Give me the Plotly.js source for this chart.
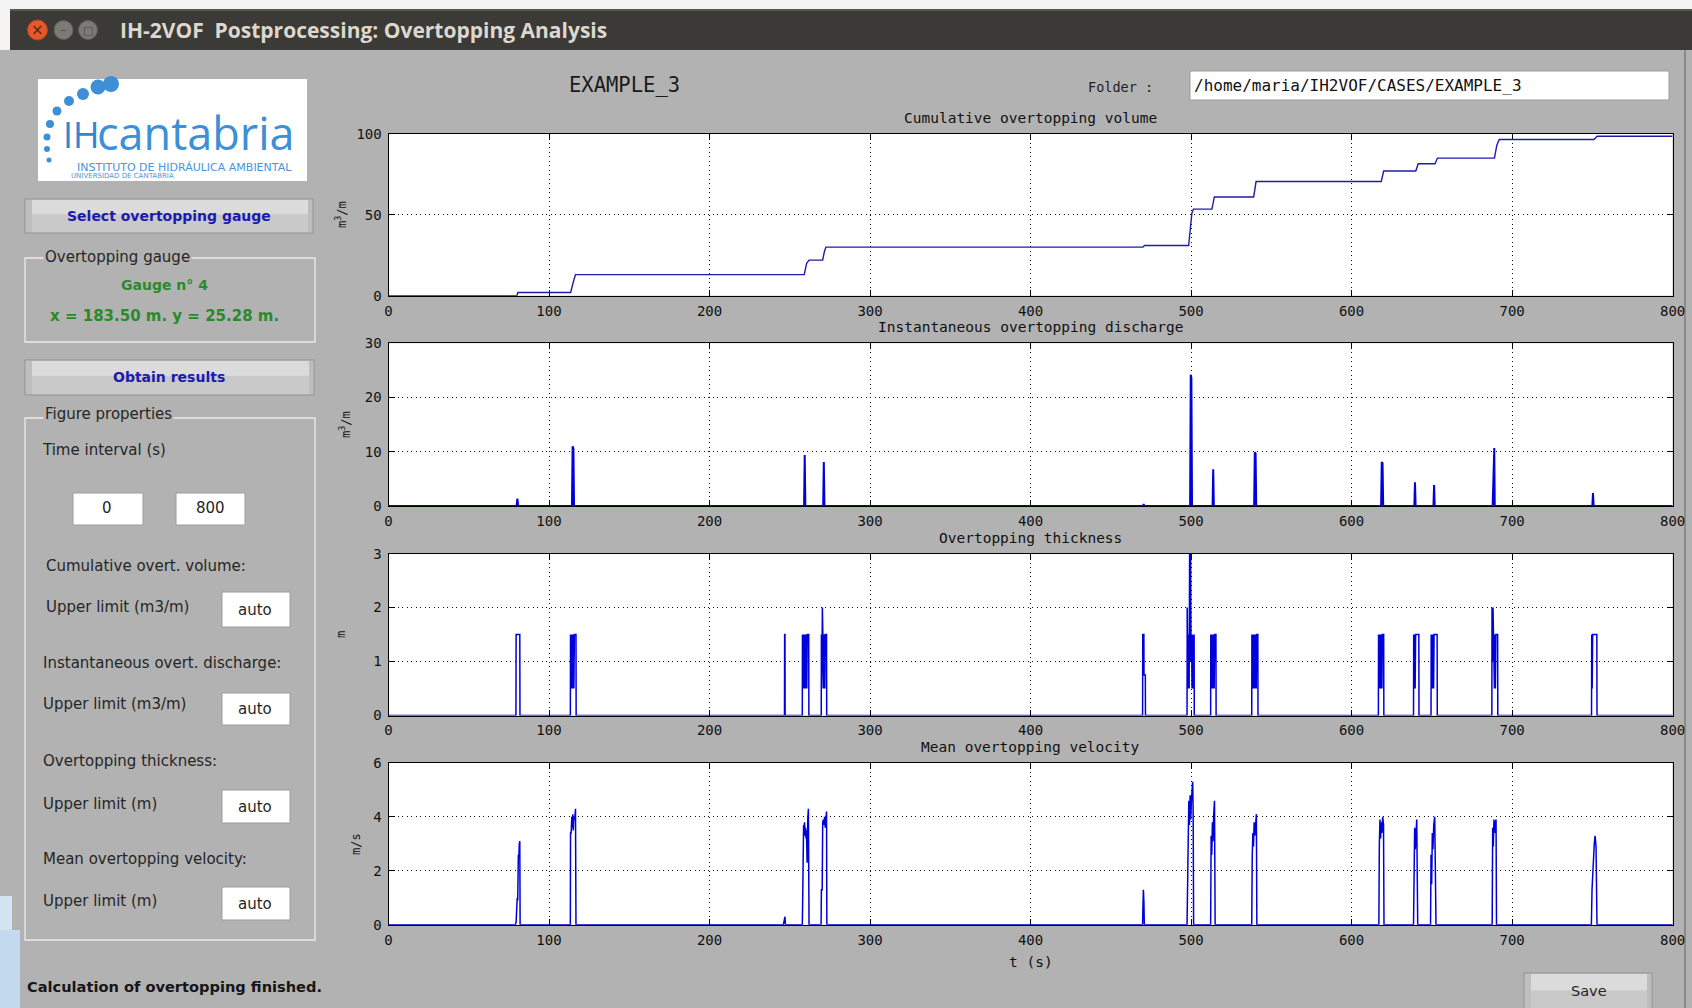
<!DOCTYPE html>
<html>
<head>
<meta charset="utf-8">
<script src="https://cdn.plot.ly/plotly-3.0.1.min.js"></script>
<style>
  html, body { margin: 0; padding: 0; background: #b2b2b2; }
  #fig { width: 1692px; height: 1008px; }
</style>
</head>
<body>
<div id="fig"></div>
<script>
// ---- Gauge 4 time series (t in seconds) ----

// Cumulative overtopping volume (m3/m)
const volTime  = [0, 80, 80.6, 113.5, 115, 116.5, 259, 260.5, 262, 270.5, 271.5, 272.5, 470, 471,
                  498.5, 499.5, 500.5, 501.5, 513, 514.5, 539, 540.5, 618.5, 620, 640, 641.5,
                  652, 653.5, 689, 690.5, 692, 751, 753, 800];
const volValue = [0, 0, 2, 2, 8, 13, 13, 20, 22, 22, 27, 30, 30, 31,
                  31, 42, 51, 53.5, 53.5, 61, 61, 70.5, 70.5, 77, 77, 81.5,
                  81.5, 85, 85, 93, 96.5, 96.5, 98.5, 98.5];

// Instantaneous overtopping discharge (m3/m)
const qTime  = [0,
  79.8, 80.3, 80.8,
  114.3, 114.7, 115.2, 115.6,
  258.9, 259.3, 259.7,
  270.8, 271.2, 271.6,
  470.2, 470.5, 470.8,
  499.4, 499.8, 500.2, 500.6,
  513.4, 513.8, 514.2,
  539.3, 539.7, 540.2, 540.6,
  618.4, 618.8, 619.3, 619.7,
  639.1, 639.5, 639.9,
  651.0, 651.4, 651.8,
  687.9, 688.2, 688.6, 688.9, 689.2,
  750.0, 750.4, 750.8,
  800];
const qValue = [0,
  0, 1.4, 0,
  0, 11.0, 10.6, 0,
  0, 9.4, 0,
  0, 8.1, 0,
  0, 0.4, 0,
  0, 24.2, 23.6, 0,
  0, 6.8, 0,
  0, 9.9, 9.7, 0,
  0, 8.1, 7.9, 0,
  0, 4.4, 0,
  0, 3.9, 0,
  0, 5.5, 5.3, 10.7, 0,
  0, 2.4, 0,
  0];

// Overtopping thickness (m)
const thkTime = [0,
  79.4, 79.5, 81.8, 81.9,
  113.3, 113.4, 113.7, 114.0, 114.3, 114.6, 114.9, 115.2, 115.5, 115.8, 116.1, 116.8, 116.9,
  246.7, 246.8, 247.0, 247.1,
  257.8, 257.9, 258.2, 258.5, 258.8, 259.1, 259.4, 259.7, 260.0, 260.3, 260.6, 260.9, 261.8, 261.9,
  269.6, 269.7, 270.0, 270.3, 270.6, 270.9, 271.2, 271.5, 271.8, 272.1, 272.9, 273.0,
  469.8, 469.9, 470.6, 470.7, 471.5, 471.6,
  497.5, 497.6, 498.0, 498.4, 498.8, 499.1, 499.4, 499.7, 500.0, 500.3, 500.6, 500.9, 501.2, 501.5, 501.9, 502.0,
  512.2, 512.3, 512.6, 512.9, 513.2, 513.5, 513.8, 514.1, 514.4, 514.7, 515.5, 515.6,
  537.8, 537.9, 538.2, 538.5, 538.8, 539.1, 539.4, 539.7, 540.0, 540.3, 540.6, 540.9, 541.6, 541.7,
  616.7, 616.8, 617.1, 617.4, 617.7, 618.0, 618.3, 618.6, 618.9, 619.2, 620.0, 620.1,
  638.6, 638.7, 639.0, 639.3, 639.6, 639.9, 641.9, 642.0,
  649.5, 649.6, 649.9, 650.2, 650.5, 650.8, 651.1, 651.4, 653.3, 653.4,
  687.4, 687.5, 687.8, 688.1, 688.4, 688.7, 689.0, 689.3, 689.6, 689.9, 691.0, 691.1,
  749.5, 749.6, 749.9, 750.2, 752.8, 752.9,
  800];
const thkValue = [0,
  0, 1.5, 1.5, 0,
  0, 1.5, 0.5, 1.5, 0.5, 1.5, 0.5, 1.5, 0.5, 1.5, 1.5, 1.5, 0,
  0, 1.5, 1.5, 0,
  0, 1.5, 0.5, 1.5, 0.5, 1.5, 0.5, 1.5, 0.5, 1.5, 0.5, 1.5, 1.5, 0,
  0, 1.5, 0.5, 2.0, 1.0, 1.5, 0.5, 1.5, 0.5, 1.5, 1.5, 0,
  0, 1.5, 1.5, 0.75, 0.75, 0,
  0, 2.0, 0.5, 1.5, 0.5, 3.0, 1.0, 3.0, 1.0, 1.5, 0.5, 1.5, 0.5, 1.5, 1.5, 0,
  0, 1.5, 0.5, 1.5, 0.5, 1.5, 0.5, 1.5, 0.5, 1.5, 1.5, 0,
  0, 1.5, 0.5, 1.5, 0.5, 1.5, 0.5, 1.5, 0.5, 1.5, 0.5, 1.5, 1.5, 0,
  0, 1.5, 0.5, 1.5, 0.5, 1.5, 0.5, 1.5, 0.5, 1.5, 1.5, 0,
  0, 1.5, 0.5, 1.5, 0.5, 1.5, 1.5, 0,
  0, 1.5, 0.5, 1.5, 0.5, 1.5, 0.5, 1.5, 1.5, 0,
  0, 2.0, 1.0, 2.0, 1.0, 1.5, 0.5, 1.5, 0.5, 1.5, 1.5, 0,
  0, 1.5, 0.5, 1.5, 1.5, 0,
  0];

// Mean overtopping velocity (m/s)
const velTime = [0,
  79.0, 79.5, 80.2, 80.5, 80.9, 81.2, 81.5, 81.8, 82.0,
  113.3, 113.4, 113.8, 114.2, 114.5, 114.8, 115.1, 115.5, 116.0, 116.5, 116.8,
  246.0, 246.3, 246.6, 247.0, 247.3,
  257.8, 258.0, 258.6, 258.9, 259.2, 259.5, 259.8, 260.1, 260.4, 260.8, 261.2, 261.6, 262.0,
  269.5, 269.7, 270.2, 270.5, 270.9, 271.3, 271.7, 272.1, 272.5, 272.9, 273.1,
  469.8, 470.0, 470.3, 470.6, 470.9,
  497.5, 497.8, 498.2, 498.6, 499.0, 499.4, 499.8, 500.2, 500.6, 501.0, 501.3, 501.6,
  512.2, 512.5, 512.9, 513.3, 513.7, 514.1, 514.6, 515.0,
  537.8, 538.1, 538.5, 538.9, 539.3, 539.7, 540.2, 540.7, 541.0,
  617.0, 617.3, 617.7, 618.1, 618.5, 618.9, 619.4, 619.9, 620.2,
  638.6, 638.9, 639.3, 639.7, 640.1, 640.6, 641.2,
  649.2, 649.5, 649.9, 650.3, 650.7, 651.2, 651.8, 652.6,
  687.6, 687.9, 688.3, 688.7, 689.1, 689.6, 690.0, 690.3,
  749.4, 749.8, 750.3, 750.7, 751.2, 751.7, 752.3, 752.9,
  800];
const velValue = [0,
  0, 0.1, 1.0, 0.9, 2.6, 2.5, 3.0, 3.1, 0,
  0, 3.4, 3.4, 4.0, 3.6, 4.1, 3.5, 4.0, 3.9, 4.3, 0,
  0, 0.1, 0.3, 0.3, 0,
  0, 0.7, 3.7, 3.5, 3.8, 3.3, 3.6, 3.2, 3.5, 2.3, 3.9, 4.3, 0,
  0, 1.3, 1.3, 3.8, 3.9, 3.7, 4.0, 3.6, 4.1, 4.2, 0,
  0, 0.6, 1.3, 0.9, 0,
  0, 2.8, 3.0, 4.6, 3.7, 4.8, 3.9, 4.6, 5.0, 5.3, 4.2, 0,
  0, 3.3, 2.6, 3.8, 3.1, 4.1, 4.6, 0,
  0, 2.5, 3.4, 2.9, 3.8, 3.3, 3.9, 4.1, 0,
  0, 3.0, 3.9, 3.2, 3.8, 3.4, 4.0, 3.7, 0,
  0, 2.2, 3.6, 2.8, 3.7, 3.9, 0,
  0, 2.6, 1.5, 3.4, 2.8, 3.7, 4.0, 0,
  0, 3.6, 2.9, 3.9, 3.4, 3.8, 3.9, 0,
  0, 1.3, 2.1, 2.6, 3.0, 3.3, 2.9, 0,
  0];

// Panel titles, axis units and tick steps
const panelTitles = ['Cumulative overtopping volume', 'Instantaneous overtopping discharge',
                     'Overtopping thickness', 'Mean overtopping velocity'];
const panelUnits  = ['m<sup>3</sup>/m', 'm<sup>3</sup>/m', 'm', 'm/s'];
const yLimits     = [100, 30, 3, 6];
const yTickSteps  = [50, 10, 1, 2];
const tLimits     = [0, 800];

// ---- page geometry (pixels) ----
const W = 1692, H = 1008;
const fx = x => x / W;
const fy = y => 1 - y / H;

const PLOT_L = 388.5, PLOT_R = 1672.6;
const panelTop    = [133.8, 343.2, 553.6, 762.9];
const panelBottom = [295.7, 506.1, 715.5, 924.8];
const unitPos = [[341, 215], [345, 425], [341, 635], [356, 844]];

const GUI_BG = '#b2b2b2';
const MONO = 'DejaVu Sans Mono, Liberation Mono, monospace';
const SANS = 'DejaVu Sans, Liberation Sans, sans-serif';

function rect(x0, y0, x1, y1, fill, line, lw, layer) {
  return { type: 'rect', xref: 'paper', yref: 'paper',
    x0: fx(x0), x1: fx(x1), y0: fy(y1), y1: fy(y0),
    fillcolor: fill, line: { color: line || 'rgba(0,0,0,0)', width: lw || 0 },
    layer: layer || 'below' };
}
function circle(cx, cy, r, fill, line) {
  return { type: 'circle', xref: 'paper', yref: 'paper',
    x0: fx(cx - r), x1: fx(cx + r), y0: fy(cy + r), y1: fy(cy - r),
    fillcolor: fill, line: { color: line || 'rgba(0,0,0,0)', width: line ? 1 : 0 }, layer: 'above' };
}
function txt(text, x, y, o) {
  const base = { xref: 'paper', yref: 'paper', x: fx(x), y: fy(y), text: text,
    showarrow: false, xanchor: 'center', yanchor: 'middle', borderpad: 0,
    font: { family: SANS, size: 15, color: '#262626' } };
  return Object.assign(base, o || {});
}
function button(x0, y0, x1, y1) {
  return [
    rect(x0, y0, x1, y1, '#c9c9c9', '#8f8f8f', 1),
    rect(x0 + 1, y0 + 1, x1 - 1, y0 + (y1 - y0) * 0.45, '#dbdbdb'),
    rect(x0 + 1, y0 + 1, x0 + 7, y1 - 1, '#bfbfbf'),
    rect(x1 - 5, y0 + 1, x1 - 1, y1 - 1, '#bdbdbd')
  ];
}
function inputBox(x0, y0, x1, y1) {
  return rect(x0, y0, x1, y1, '#ffffff', '#9c9c9c', 1);
}

// ---- shapes: window frame, controls, logo ----
const shapes = [];
shapes.push(rect(0, 0, W, 9, '#f4f4f4'));
shapes.push(rect(0, 0, 10, 50, '#f4f4f4'));
shapes.push(rect(10, 9, W, 50, '#3b3a36'));
shapes.push(rect(10, 9, W, 11, '#57564f'));
shapes.push(rect(0, 896, 12, H, '#d3e4f2'));
shapes.push(rect(0, 930, 20, H, '#c4dbef'));
shapes.push(rect(1684, 50, 1686, H, '#8a8a8a'));

// logo
shapes.push(rect(38, 79, 307, 181, '#ffffff'));
[[111, 84, 8], [98, 87, 7.5], [83, 94, 6], [69, 101, 5], [57, 111, 4.5],
 [50, 124, 4], [47, 137, 3.5], [47, 149, 3], [49, 160, 2.5]].forEach(d =>
  shapes.push(circle(d[0], d[1], d[2], '#3f8fd6')));

// buttons
shapes.push(...button(25, 199, 313, 233));
shapes.push(...button(25, 360, 314, 395));
shapes.push(...button(1524, 973, 1652, 1012));

// group boxes
shapes.push(rect(25, 258, 315, 342, 'rgba(0,0,0,0)', '#ebebeb', 1.3));
shapes.push(rect(25, 418, 315, 940, 'rgba(0,0,0,0)', '#ebebeb', 1.3));

// edit fields
shapes.push(inputBox(73, 493, 143, 525));
shapes.push(inputBox(176, 493, 245, 525));
shapes.push(inputBox(222, 592, 290, 627));
shapes.push(inputBox(222, 693, 290, 725));
shapes.push(inputBox(222, 790, 290, 823));
shapes.push(inputBox(222, 887, 290, 920));
shapes.push(inputBox(1190, 71, 1669, 100));

// window control buttons
shapes.push(circle(37.5, 30, 10, '#e4582b', '#b8441f'));
shapes.push(circle(63.5, 30, 9.5, '#7b7a75', '#5c5b57'));
shapes.push(circle(88, 30, 9.5, '#7b7a75', '#5c5b57'));

// ---- annotations ----
const ann = [];
ann.push(txt('×', 37.5, 29.5, { font: { family: SANS, size: 15, color: '#5a2410' } }));
ann.push(txt('–', 63.5, 29.5, { font: { family: SANS, size: 13, color: '#4b4a46' } }));
ann.push(txt('□', 88, 30, { font: { family: SANS, size: 11, color: '#4b4a46' } }));
ann.push(txt('IH-2VOF\u00a0 Postprocessing: Overtopping Analysis', 119, 30,
  { xanchor: 'left', font: { family: 'Open Sans, Noto Sans, sans-serif', size: 21, color: '#dcd8cf', weight: 700 } }));

// logo text
ann.push(txt('IH', 81, 135, { font: { family: 'Open Sans, sans-serif', size: 36, color: '#3486d0' } }));
ann.push(txt('cantabria', 96, 133, { xanchor: 'left', font: { family: 'Open Sans, sans-serif', size: 45, color: '#3d8fd6' } }));
ann.push(txt('INSTITUTO DE HIDRÁULICA AMBIENTAL', 184, 167.5,
  { font: { family: SANS, size: 11, color: '#4a95d8' } }));
ann.push(txt('UNIVERSIDAD DE CANTABRIA', 70, 176,
  { xanchor: 'left', font: { family: SANS, size: 7, color: '#4a95d8' } }));

// left control panel
const BLUE_TXT = '#1b1bb0', GREEN_TXT = '#2a8a2a';
ann.push(txt('<b>Select overtopping gauge</b>', 169, 216, { font: { family: SANS, size: 14, color: BLUE_TXT } }));
ann.push(txt('Overtopping gauge', 43, 257, { xanchor: 'left', bgcolor: GUI_BG, borderpad: 1 }));
ann.push(txt('<b>Gauge n° 4</b>', 164, 285, { font: { family: SANS, size: 14, color: GREEN_TXT } }));
ann.push(txt('<b>x = 183.50 m. y = 25.28 m.</b>', 164, 316, { font: { family: SANS, size: 15, color: GREEN_TXT } }));
ann.push(txt('<b>Obtain results</b>', 169, 377, { font: { family: SANS, size: 14, color: BLUE_TXT } }));
ann.push(txt('Figure properties', 43, 414, { xanchor: 'left', bgcolor: GUI_BG, borderpad: 1 }));
ann.push(txt('Time interval (s)', 41, 450, { xanchor: 'left' }));
ann.push(txt(String(tLimits[0]), 107, 508));
ann.push(txt(String(tLimits[1]), 210, 508));
ann.push(txt('Cumulative overt. volume:', 45, 566, { xanchor: 'left' }));
ann.push(txt('Upper limit (m3/m)', 45, 607, { xanchor: 'left' }));
ann.push(txt('auto', 255, 610));
ann.push(txt('Instantaneous overt. discharge:', 42, 663, { xanchor: 'left' }));
ann.push(txt('Upper limit (m3/m)', 42, 704, { xanchor: 'left' }));
ann.push(txt('auto', 255, 709));
ann.push(txt('Overtopping thickness:', 42, 761, { xanchor: 'left' }));
ann.push(txt('Upper limit (m)', 42, 804, { xanchor: 'left' }));
ann.push(txt('auto', 255, 807));
ann.push(txt('Mean overtopping velocity:', 42, 859, { xanchor: 'left' }));
ann.push(txt('Upper limit (m)', 42, 901, { xanchor: 'left' }));
ann.push(txt('auto', 255, 904));
ann.push(txt('<b>Calculation of overtopping finished.</b>', 26, 986,
  { xanchor: 'left', font: { family: SANS, size: 14.6, color: '#161616' } }));
ann.push(txt('Save', 1589, 991, { font: { family: SANS, size: 14.5, color: '#262626' } }));

// header of the plot area
ann.push(txt('EXAMPLE_3', 624, 85, { font: { family: MONO, size: 20.5, color: '#1a1a1a' } }));
ann.push(txt('Folder :', 1154, 87, { xanchor: 'right', font: { family: MONO, size: 13.5, color: '#222' } }));
ann.push(txt('/home/maria/IH2VOF/CASES/EXAMPLE_3', 1193, 85,
  { xanchor: 'left', font: { family: MONO, size: 16, color: '#111' } }));

// panel titles and units
const midX = (PLOT_L + PLOT_R) / 2;
for (let i = 0; i < 4; i++) {
  ann.push(txt(panelTitles[i], midX, panelTop[i] - 16, { font: { family: MONO, size: 14.5, color: '#111' } }));
  ann.push(txt(panelUnits[i], unitPos[i][0], unitPos[i][1],
    { textangle: -90, font: { family: MONO, size: 12, color: '#111' } }));
}
ann.push(txt('t (s)', midX, 962, { font: { family: MONO, size: 14.5, color: '#111' } }));

// ---- axes ----
const axisStyle = {
  showline: true, linecolor: '#000', linewidth: 1, mirror: 'ticks',
  ticks: 'inside', ticklen: 6, tickwidth: 1, tickcolor: '#000',
  showgrid: true, gridcolor: '#111', gridwidth: 1, griddash: '1px,3.5px',
  zeroline: false, layer: 'below traces', automargin: false, fixedrange: true,
  tickfont: { family: MONO, size: 14, color: '#111' }
};

const layout = {
  width: W, height: H,
  margin: { l: 0, r: 0, t: 0, b: 0 },
  paper_bgcolor: GUI_BG, plot_bgcolor: '#ffffff',
  showlegend: false, hovermode: false,
  shapes: shapes, annotations: ann
};

const series = [[volTime, volValue, '#1c1ca8', 1.4],
                [qTime, qValue, '#0000dc', 2.0],
                [thkTime, thkValue, '#0000dc', 1.5],
                [velTime, velValue, '#0000dc', 1.5]];
const traces = [];
for (let i = 0; i < 4; i++) {
  const s = i === 0 ? '' : String(i + 1);
  layout['xaxis' + s] = Object.assign({}, axisStyle, {
    domain: [fx(PLOT_L), fx(PLOT_R)], range: tLimits, tick0: 0, dtick: 100,
    anchor: 'y' + s, ticklabelstandoff: 2 });
  layout['yaxis' + s] = Object.assign({}, axisStyle, {
    domain: [fy(panelBottom[i]), fy(panelTop[i])], range: [0, yLimits[i]],
    tick0: 0, dtick: yTickSteps[i], anchor: 'x' + s, ticklabelstandoff: 3 });
  traces.push({
    type: 'scatter', mode: 'lines', x: series[i][0], y: series[i][1],
    xaxis: 'x' + s, yaxis: 'y' + s,
    line: { color: series[i][2], width: series[i][3] }
  });
}

Plotly.newPlot('fig', traces, layout, { displayModeBar: false, staticPlot: true });
</script>
</body>
</html>
